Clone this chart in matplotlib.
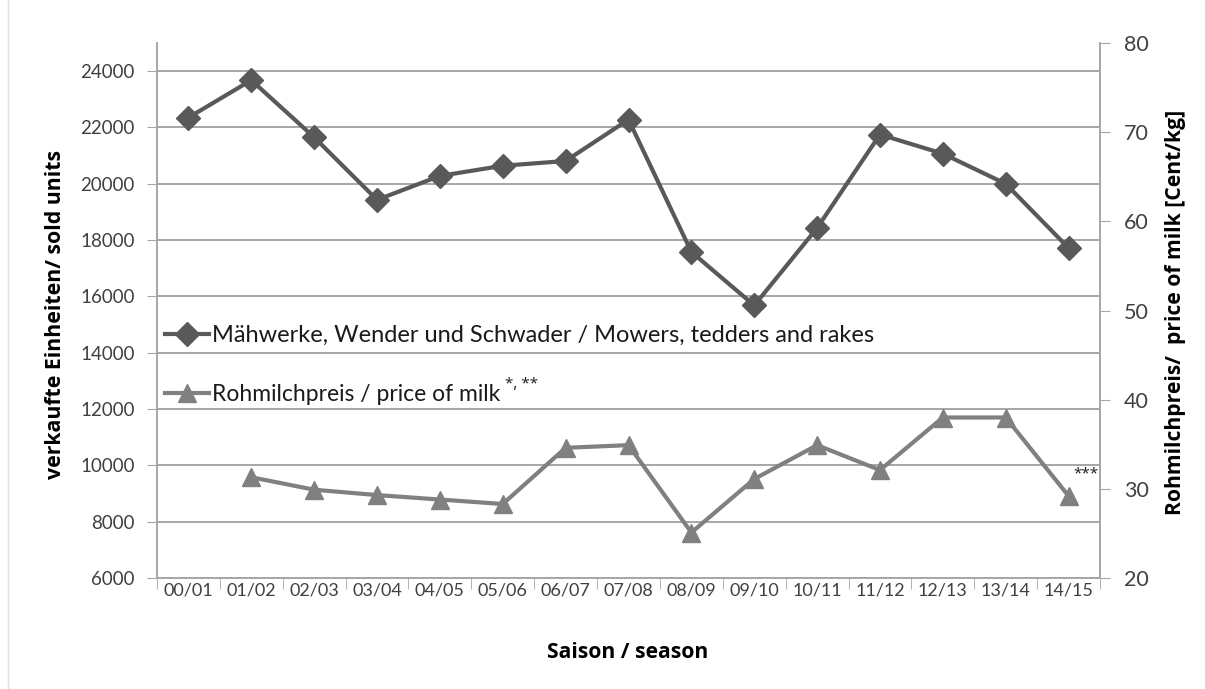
import matplotlib
matplotlib.use("Agg")
import matplotlib.pyplot as plt
from matplotlib.lines import Line2D
from matplotlib import font_manager
import numpy as np

seasons = ["00/01", "01/02", "02/03", "03/04", "04/05", "05/06", "06/07", "07/08",
           "08/09", "09/10", "10/11", "11/12", "12/13", "13/14", "14/15"]
mowers = [22350, 23680, 21650, 19430, 20280, 20640, 20810, 22280,
          17580, 15680, 18430, 21750, 21070, 20000, 17720]
milk = [np.nan, 31.3, 29.9, 29.3, 28.8, 28.3, 34.6, 34.9,
        25.1, 31.1, 34.9, 32.1, 38.0, 38.0, 29.2]
left_ticks = list(range(6000, 24001, 2000))
right_ticks = list(range(20, 81, 10))

label_mowers = "Mähwerke, Wender und Schwader / Mowers, tedders and rakes"
label_milk = "Rohmilchpreis / price of milk"
milk_note = "*, **"
end_note = "***"

plt.rcParams['font.family'] = ['Lato', 'DejaVu Sans']

W, H = 1205, 689
fig = plt.figure(figsize=(W / 100, H / 100), dpi=100)
ax = fig.add_axes([157/W, 1-578/H, (1100-157)/W, (578-43)/H])
ax2 = ax.twinx()

x = np.arange(len(seasons))
axis_col = "#a6a6a6"
text_col = "#404040"
bold_font = ['Open Sans', 'DejaVu Sans']
star_font = ['Open Sans', 'DejaVu Sans']
installed = {f.name for f in font_manager.fontManager.ttflist}
narrow_font = 'Liberation Sans Narrow' if 'Liberation Sans Narrow' in installed else 'Lato'

ax.set_ylim(6000, 25000)
ax.set_yticks(left_ticks)
ax.set_xlim(-0.5, len(seasons) - 0.5)
ax.grid(axis='y', color=axis_col, lw=1.4)
ax.set_axisbelow(True)
ax.set_xticks(x)
ax.set_xticklabels(seasons, fontsize=13, color=text_col)
ax.set_xticks(np.arange(-0.5, len(seasons), 1.0), minor=True)
ax.tick_params(axis='x', which='major', length=0, pad=3)
ax.tick_params(axis='x', which='minor', length=8, color=axis_col, direction='out')
ax.tick_params(axis='y', length=7, color=axis_col, labelsize=13.5, labelcolor=text_col, pad=9)

l1, = ax.plot(x, mowers, color="#595959", lw=3.0, marker='D', ms=12.5,
              label=label_mowers, zorder=3)

ax2.set_ylim(20, 80)
ax2.set_yticks(right_ticks)
ax2.tick_params(axis='y', length=7, color=axis_col, labelsize=15.5, labelcolor=text_col, pad=10)
l2, = ax2.plot(x, milk, color="#808080", lw=3.0, marker='^', ms=13.5,
               label=label_milk, zorder=3)
ax2.text(14.07, 31.7, end_note, fontsize=11, color="#1a1a1a", family=star_font,
         ha='left', va='center')

for a in (ax, ax2):
    a.spines['top'].set_visible(False)
    for s in ('left', 'right', 'bottom'):
        a.spines[s].set_color(axis_col)
        a.spines[s].set_linewidth(1.2)

fig.text(56/W, 1-314/H, "verkaufte Einheiten/ sold units", rotation=90, fontsize=15.3,
         fontweight='bold', family=bold_font, ha='center', va='center')
fig.text(1176/W, 1-312/H, "Rohmilchpreis/  price of milk [Cent/kg]", rotation=90,
         fontsize=15.2, fontweight='bold', family=bold_font, ha='center', va='center')
fig.text(628/W, 1-652/H, "Saison / season", fontsize=15.2, fontweight='bold',
         family=bold_font, ha='center', va='center')

leg = ax.legend(handles=[l1, l2], loc='center left', bbox_to_anchor=(0.008, 0.398),
                frameon=False, fontsize=17, labelspacing=1.6, handlelength=1.9,
                handletextpad=0.1, borderaxespad=0.0, borderpad=0.0)
for t in leg.get_texts():
    t.set_color("#1a1a1a")
leg.get_texts()[1].set_family(narrow_font)
leg.get_texts()[1].set_fontsize(16.5)

fig.canvas.draw()
bb = leg.get_texts()[1].get_window_extent()
fig.text((bb.x1 + 5) / W, (bb.y1 + 7) / H, milk_note, fontsize=11, color="#1a1a1a",
         family=star_font, ha='left', va='top')

fig.add_artist(Line2D([8/W, 8/W], [0, 1], color="#e0e0e0", lw=1.0))

fig.savefig("out.png", dpi=100, facecolor='white')
